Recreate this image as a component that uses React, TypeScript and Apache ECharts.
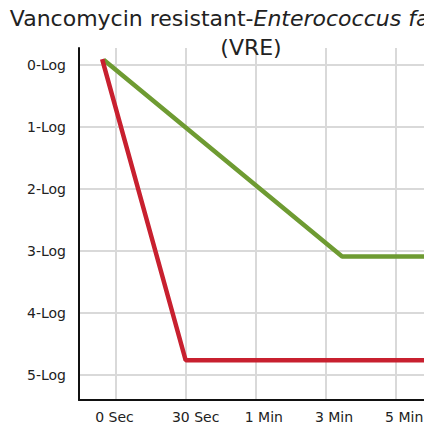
import React, { useEffect, useRef } from "react";
import * as echarts from "echarts";

const xCategories = ["0 Sec", "30 Sec", "1 Min", "3 Min", "5 Min", "10 Min"];
const yLabels = ["0-Log", "1-Log", "2-Log", "3-Log", "4-Log", "5-Log"];
// [x position in category units, log reduction]
const redSeries: [number, number][] = [
  [-0.19, -0.09],
  [1, 4.76],
  [5.48, 4.76],
];
const greenSeries: [number, number][] = [
  [-0.17, -0.08],
  [3.23, 3.09],
  [5.48, 3.09],
];

const FONT = "DejaVu Sans";
// label shift style names (left padding in px, shifts centred label right by half)
const labelShift = ["s0", "s20", "s16", "s16", "s16", "s16"];

export default function App() {
  const ref = useRef<HTMLDivElement>(null);
  useEffect(() => {
    if (!ref.current) return;
    const chart = echarts.init(ref.current, null, { renderer: "svg" });
    const labelRich = {
      s0: { fontFamily: FONT, fontSize: 14, color: "#222222", padding: [0, 2, 0, 0] },
      s20: { fontFamily: FONT, fontSize: 14, color: "#222222", padding: [0, 0, 0, 20] },
      s16: { fontFamily: FONT, fontSize: 14, color: "#222222", padding: [0, 0, 0, 16] },
    };
    chart.setOption({
      animation: false,
      backgroundColor: "#ffffff",
      title: {
        text: "Vancomycin resistant-{i|Enterococcus faecalis}\n(VRE)",
        left: "center",
        top: 4,
        padding: 0,
        textStyle: {
          fontFamily: FONT,
          fontSize: 22,
          fontWeight: "normal",
          color: "#222222",
          lineHeight: 29,
          rich: {
            i: {
              fontFamily: FONT,
              fontSize: 22,
              fontStyle: "italic",
              color: "#222222",
              lineHeight: 29,
            },
          },
        },
      },
      grid: { left: 79, right: 2, top: 48, bottom: 29, containLabel: false },
      xAxis: {
        type: "value",
        min: -0.52,
        max: 5.48,
        axisLine: { show: true, onZero: false, lineStyle: { color: "#111111", width: 2 } },
        axisTick: { show: false },
        splitLine: {
          show: true,
          showMinLine: false,
          showMaxLine: false,
          lineStyle: { color: "#d9d9d9", width: 2 },
        },
        axisLabel: {
          fontFamily: FONT,
          fontSize: 14,
          color: "#222222",
          margin: 10,
          showMinLabel: false,
          showMaxLabel: false,
          rich: labelRich,
          formatter: (v: number) =>
            Number.isInteger(v) && xCategories[v] !== undefined
              ? `{${labelShift[v]}|${xCategories[v]}}`
              : "",
        },
      },
      yAxis: {
        type: "value",
        inverse: true,
        min: -0.27,
        max: 5.4,
        axisLine: { show: true, onZero: false, lineStyle: { color: "#111111", width: 2 } },
        axisTick: { show: false },
        splitLine: {
          show: true,
          showMinLine: false,
          showMaxLine: false,
          lineStyle: { color: "#d9d9d9", width: 2 },
        },
        axisLabel: {
          fontFamily: FONT,
          fontSize: 14,
          color: "#222222",
          margin: 13,
          showMinLabel: false,
          showMaxLabel: false,
          formatter: (v: number) =>
            Number.isInteger(v) && yLabels[v] !== undefined ? yLabels[v] : "",
        },
      },
      series: [
        {
          type: "line",
          data: greenSeries,
          symbol: "none",
          lineStyle: { color: "#6e9b32", width: 4.5 },
          z: 3,
        },
        {
          type: "line",
          data: redSeries,
          symbol: "none",
          lineStyle: { color: "#c8202f", width: 4.5 },
          z: 4,
        },
      ],
    });
    return () => chart.dispose();
  }, []);
  return (
    <div
      style={{
        position: "fixed",
        left: 0,
        top: 0,
        width: 424,
        height: 429,
        overflow: "hidden",
        background: "#fff",
      }}
    >
      <div ref={ref} style={{ width: 502, height: 429 }} />
    </div>
  );
}
